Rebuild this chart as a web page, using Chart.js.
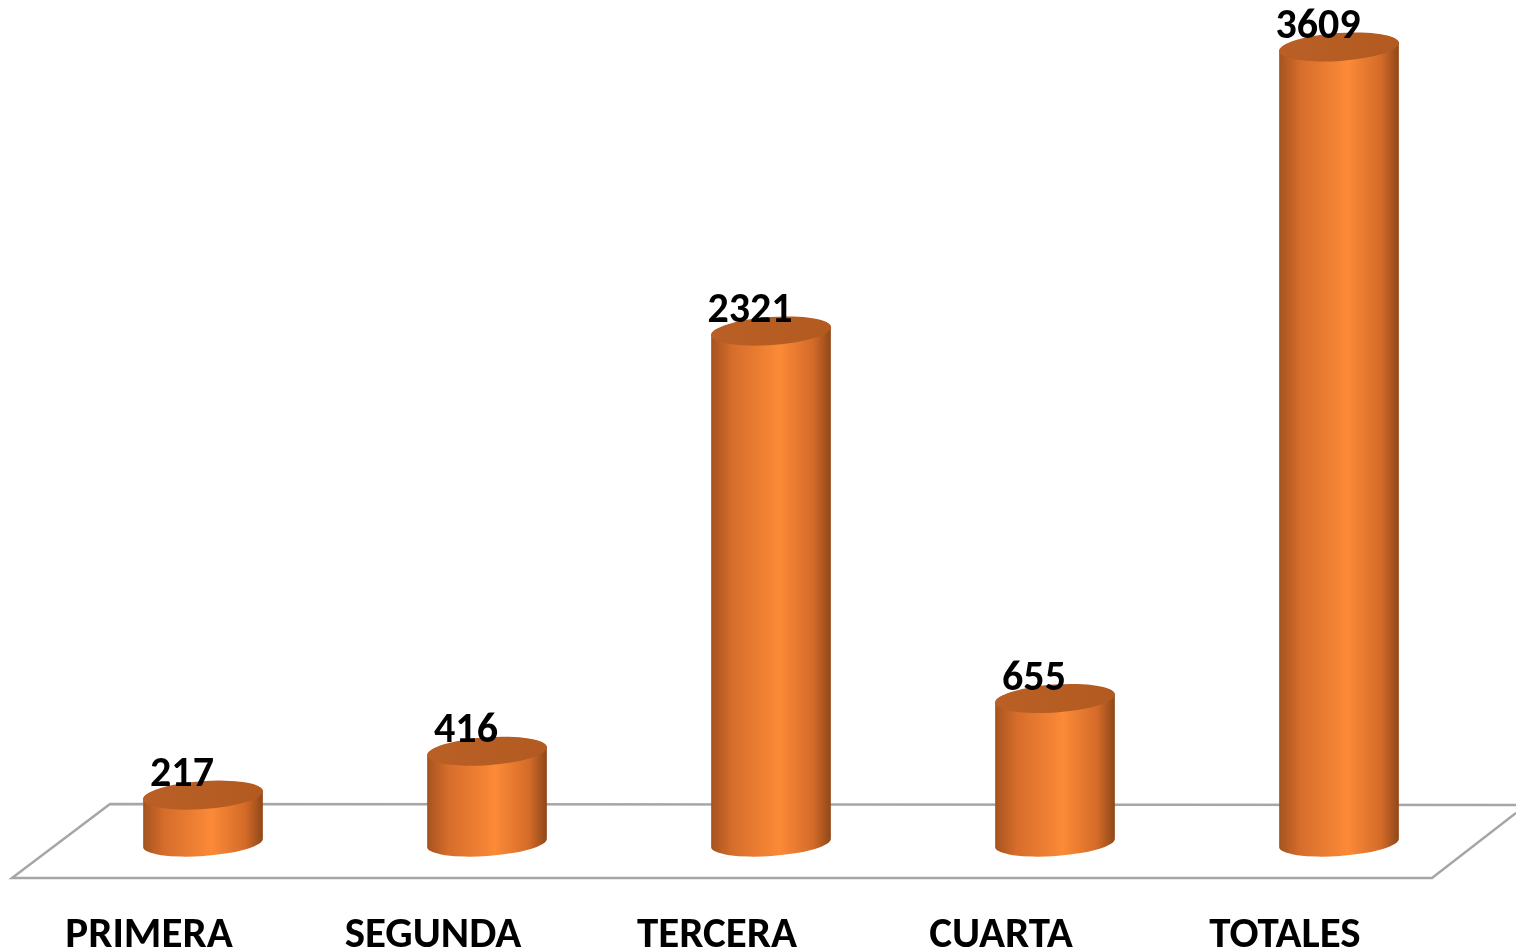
<!DOCTYPE html>
<html>
<head>
<meta charset="utf-8">
<script src="https://cdn.jsdelivr.net/npm/chart.js@4/dist/chart.umd.min.js"></script>
<style>
  html, body { margin: 0; padding: 0; background: #fff; }
  #wrap { width: 1516px; height: 952px; }
</style>
</head>
<body>
<div id="wrap"><canvas id="c" width="1516" height="952"></canvas></div>
<script>
  // data
  const categories = ["PRIMERA", "SEGUNDA", "TERCERA", "CUARTA", "TOTALES"];
  const values = [217, 416, 2321, 655, 3609];

  const FONT = "Carlito, Lato, 'Liberation Sans', sans-serif";

  // floor parallelogram + cylinders drawn from bar elements
  const cylinders = {
    id: "cylinders",
    beforeDatasetsDraw(chart) {
      const { ctx, chartArea } = chart;
      const base = chart.scales.y.getPixelForValue(0);
      const backY = base - 39, frontY = base + 35;
      ctx.save();
      ctx.strokeStyle = "#a6a6a6";
      ctx.lineWidth = 2.5;
      ctx.beginPath();
      ctx.moveTo(chartArea.right + 35, backY + 1);
      ctx.lineTo(chartArea.left + 49, backY);
      ctx.lineTo(chartArea.left - 49, frontY);
      ctx.lineTo(chartArea.right - 49, frontY);
      ctx.lineTo(chartArea.right + 35, backY + 9);
      ctx.stroke();
      ctx.restore();
    },
    afterDatasetsDraw(chart) {
      const { ctx } = chart;
      const meta = chart.getDatasetMeta(0);
      const rx = 60, ry = 13, rot = -0.07;
      meta.data.forEach((bar, i) => {
        const cx = bar.x, ty = bar.y, by = bar.base;
        const dx = rx * Math.cos(rot), dy = rx * Math.sin(rot);
        const g = ctx.createLinearGradient(cx - rx, 0, cx + rx, 0);
        g.addColorStop(0, "#a5531f");
        g.addColorStop(0.18, "#d66d2b");
        g.addColorStop(0.57, "#fc8a37");
        g.addColorStop(0.85, "#d56b29");
        g.addColorStop(1, "#8f4719");
        ctx.save();
        ctx.beginPath();
        ctx.moveTo(cx - dx, ty - dy);
        ctx.lineTo(cx - dx, by - dy);
        ctx.ellipse(cx, by, rx, ry, rot, Math.PI, 0, true);
        ctx.lineTo(cx + dx, ty + dy);
        ctx.ellipse(cx, ty, rx, ry, rot, 0, Math.PI, true);
        ctx.closePath();
        ctx.fillStyle = g;
        ctx.fill();

        const tg = ctx.createLinearGradient(cx - rx, 0, cx + rx, 0);
        tg.addColorStop(0, "#ba6026");
        tg.addColorStop(1, "#b25a20");
        ctx.beginPath();
        ctx.ellipse(cx, ty, rx, ry + 1, rot, 0, Math.PI * 2);
        ctx.fillStyle = tg;
        ctx.fill();

        ctx.fillStyle = "#000";
        ctx.font = "bold 42px " + FONT;
        ctx.textAlign = "center";
        ctx.textBaseline = "alphabetic";
        ctx.fillText(String(values[i]), cx - 21, ty - 9);
        ctx.restore();
      });
    }
  };

  new Chart(document.getElementById("c"), {
    type: "bar",
    data: {
      labels: categories,
      datasets: [{
        data: values,
        backgroundColor: "rgba(0,0,0,0)",
        borderWidth: 0
      }]
    },
    options: {
      responsive: false,
      animation: false,
      devicePixelRatio: 1,
      layout: { padding: { top: 47, left: 61, right: 35, bottom: 0 } },
      plugins: { legend: { display: false }, tooltip: { enabled: false } },
      scales: {
        y: { display: false, min: 0, max: 3609 },
        x: {
          grid: { display: false, drawTicks: false },
          border: { display: false },
          afterFit: (scale) => { scale.height = 109; },
          ticks: {
            color: "#000",
            font: { family: FONT, size: 43, weight: "bold", lineHeight: 1 },
            padding: 72,
            labelOffset: -54
          }
        }
      }
    },
    plugins: [cylinders]
  });
</script>
</body>
</html>
